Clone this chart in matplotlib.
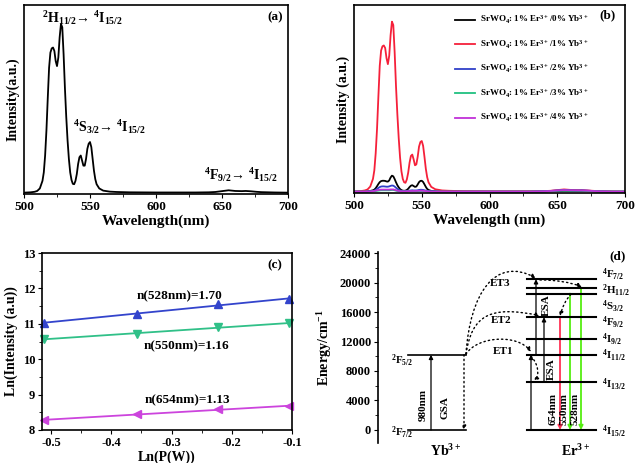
import numpy as np
import matplotlib
matplotlib.use('Agg')
import matplotlib.pyplot as plt
from matplotlib.patches import FancyArrowPatch
from matplotlib.path import Path
from matplotlib.ticker import MultipleLocator

plt.rcParams['font.family'] = ['Liberation Serif', 'DejaVu Serif']
plt.rcParams['font.weight'] = 'bold'
plt.rcParams['axes.labelweight'] = 'bold'
plt.rcParams['mathtext.fontset'] = 'custom'
plt.rcParams['mathtext.default'] = 'regular'
plt.rcParams['mathtext.rm'] = 'Liberation Serif:bold'
plt.rcParams['mathtext.bf'] = 'Liberation Serif:bold'
plt.rcParams['axes.unicode_minus'] = False
plt.rcParams['axes.linewidth'] = 1.2

# ---------------- data ----------------
# emission spectra (normalised)
wl = [500, 505, 508, 510, 512, 514, 515, 516, 517, 518, 519, 520, 521, 522, 523, 524,
      525, 526, 527, 528, 529, 530, 531, 532, 533, 534, 535, 536, 537, 538, 539, 540,
      541, 542, 543, 544, 545, 546, 547, 548, 549, 550, 551, 552, 553, 554, 555, 557,
      560, 565, 570, 580, 600, 630, 640, 645, 650, 655, 660, 665, 668, 672, 676, 680,
      690, 700]

spec_a = [0.000, 0.002, 0.005, 0.010, 0.025, 0.070, 0.120, 0.220, 0.370, 0.560, 0.740, 0.830,
          0.855, 0.860, 0.840, 0.780, 0.750, 0.800, 0.920, 1.000, 0.980, 0.820, 0.620, 0.450,
          0.310, 0.200, 0.120, 0.075, 0.052, 0.050, 0.070, 0.110, 0.170, 0.210, 0.220, 0.190,
          0.160, 0.160, 0.200, 0.260, 0.290, 0.300, 0.270, 0.200, 0.130, 0.080, 0.050, 0.025,
          0.012, 0.006, 0.004, 0.002, 0.001, 0.001, 0.002, 0.004, 0.009, 0.014, 0.010, 0.009,
          0.010, 0.008, 0.005, 0.003, 0.001, 0.000]

spec_0yb = [0.000, 0.000, 0.001, 0.002, 0.004, 0.008, 0.012, 0.020, 0.032, 0.045, 0.056, 0.062,
            0.064, 0.064, 0.063, 0.060, 0.059, 0.066, 0.083, 0.094, 0.090, 0.074, 0.055, 0.038,
            0.025, 0.015, 0.009, 0.006, 0.005, 0.006, 0.010, 0.017, 0.027, 0.035, 0.038, 0.033,
            0.028, 0.030, 0.042, 0.056, 0.063, 0.064, 0.057, 0.043, 0.028, 0.016, 0.010, 0.004,
            0.002, 0.001, 0.001, 0.000, 0.000, 0.000, 0.001, 0.002, 0.003, 0.005, 0.004, 0.003,
            0.004, 0.003, 0.002, 0.001, 0.000, 0.000]

spec_1yb = [0.000, 0.003, 0.007, 0.013, 0.030, 0.075, 0.125, 0.225, 0.370, 0.560, 0.740, 0.830,
            0.855, 0.860, 0.845, 0.785, 0.750, 0.800, 0.920, 1.000, 0.980, 0.820, 0.620, 0.455,
            0.315, 0.200, 0.120, 0.075, 0.055, 0.052, 0.072, 0.112, 0.170, 0.210, 0.218, 0.190,
            0.155, 0.160, 0.205, 0.265, 0.292, 0.298, 0.270, 0.205, 0.135, 0.085, 0.055, 0.028,
            0.014, 0.007, 0.005, 0.003, 0.002, 0.002, 0.003, 0.005, 0.009, 0.013, 0.010, 0.009,
            0.009, 0.007, 0.005, 0.003, 0.001, 0.000]

spec_2yb = [0.000, 0.000, 0.000, 0.001, 0.002, 0.004, 0.006, 0.010, 0.016, 0.022, 0.027, 0.030,
            0.031, 0.031, 0.030, 0.029, 0.029, 0.031, 0.034, 0.036, 0.035, 0.030, 0.023, 0.016,
            0.011, 0.007, 0.004, 0.003, 0.003, 0.003, 0.004, 0.005, 0.006, 0.007, 0.008, 0.007,
            0.007, 0.007, 0.008, 0.010, 0.011, 0.011, 0.010, 0.008, 0.006, 0.004, 0.003, 0.002,
            0.001, 0.000, 0.000, 0.000, 0.000, 0.000, 0.002, 0.004, 0.007, 0.010, 0.008, 0.007,
            0.008, 0.006, 0.004, 0.002, 0.000, 0.000]

spec_3yb = [0.000, 0.000, 0.000, 0.000, 0.001, 0.002, 0.003, 0.004, 0.005, 0.006, 0.007, 0.008,
            0.008, 0.008, 0.008, 0.008, 0.008, 0.008, 0.009, 0.010, 0.010, 0.008, 0.006, 0.004,
            0.003, 0.002, 0.001, 0.001, 0.001, 0.001, 0.001, 0.002, 0.002, 0.003, 0.003, 0.003,
            0.003, 0.003, 0.003, 0.004, 0.004, 0.004, 0.004, 0.003, 0.002, 0.001, 0.001, 0.000,
            0.000, 0.000, 0.000, 0.000, 0.000, 0.000, 0.001, 0.003, 0.005, 0.006, 0.005, 0.005,
            0.005, 0.004, 0.003, 0.001, 0.000, 0.000]

spec_4yb = [0.000, 0.000, 0.000, 0.001, 0.002, 0.003, 0.004, 0.006, 0.008, 0.010, 0.011, 0.012,
            0.012, 0.012, 0.012, 0.012, 0.012, 0.012, 0.013, 0.013, 0.013, 0.011, 0.008, 0.006,
            0.004, 0.003, 0.002, 0.002, 0.002, 0.002, 0.002, 0.003, 0.003, 0.004, 0.004, 0.004,
            0.004, 0.004, 0.005, 0.005, 0.006, 0.006, 0.005, 0.004, 0.003, 0.002, 0.001, 0.001,
            0.000, 0.000, 0.000, 0.000, 0.000, 0.000, 0.002, 0.004, 0.007, 0.009, 0.008, 0.007,
            0.007, 0.006, 0.004, 0.002, 0.000, 0.000]

series_b = [spec_0yb, spec_1yb, spec_2yb, spec_3yb, spec_4yb]
labels_b = ['SrWO$_4$: 1% Er$^{3+}$/0% Yb$^{3+}$',
            'SrWO$_4$: 1% Er$^{3+}$/1% Yb$^{3+}$',
            'SrWO$_4$: 1% Er$^{3+}$/2% Yb$^{3+}$',
            'SrWO$_4$: 1% Er$^{3+}$/3% Yb$^{3+}$',
            'SrWO$_4$: 1% Er$^{3+}$/4% Yb$^{3+}$']
colors_b = ['#000000', '#f5203a', '#3040c8', '#20c080', '#c030d8']

# power dependence
ln_p = [-0.511, -0.357, -0.223, -0.105]
ln_i_528 = [11.03, 11.28, 11.55, 11.70]
ln_i_550 = [10.57, 10.72, 10.90, 11.02]
ln_i_654 = [8.28, 8.44, 8.59, 8.67]

# energy levels (cm^-1)
yb_levels = {'2F7/2': 0, '2F5/2': 10200}
er_levels = {'4I15/2': 0, '4I13/2': 6550, '4I11/2': 10200, '4I9/2': 12400,
             '4F9/2': 15300, '4S3/2': 18500, '2H11/2': 19250, '4F7/2': 20450}

# ---------------- figure ----------------
W, H = 638, 463
fig = plt.figure(figsize=(W / 100, H / 100), dpi=100)


def rect(l, t, r, b):
    return [l / W, 1 - b / H, (r - l) / W, (b - t) / H]


# ---- (a) ----
ax = fig.add_axes(rect(24, 5, 288, 194))
ax.plot(wl, spec_a, color='black', lw=1.3)
ax.set_xlim(500, 700)
ax.set_ylim(-0.008, 1.112)
ax.set_yticks([])
ax.xaxis.set_major_locator(MultipleLocator(50))
ax.xaxis.set_minor_locator(MultipleLocator(25))
ax.tick_params(axis='x', which='major', direction='out', length=3, labelsize=9.5, pad=2)
ax.tick_params(axis='x', which='minor', direction='out', length=2)
ax.set_xlabel('Wavelength(nm)', fontsize=11, labelpad=1)
ax.set_ylabel('Intensity(a.u.)', fontsize=10, labelpad=3)
ax.text(0.07, 0.93, '$^2$H$_{11/2}$→ $^4$I$_{15/2}$', transform=ax.transAxes,
        fontsize=10, va='center', ha='left')
ax.text(0.185, 0.355, '$^4$S$_{3/2}$→ $^4$I$_{15/2}$', transform=ax.transAxes,
        fontsize=10, va='center', ha='left')
ax.text(0.68, 0.10, '$^4$F$_{9/2}$→ $^4$I$_{15/2}$', transform=ax.transAxes,
        fontsize=10, va='center', ha='left')
ax.text(0.98, 0.935, '(a)', transform=ax.transAxes, fontsize=9.5, va='center', ha='right')

# ---- (b) ----
ax = fig.add_axes(rect(354, 5, 625, 193))
for s, lab, c in zip(series_b, labels_b, colors_b):
    ax.plot(wl, s, color=c, lw=1.3, label=lab)
ax.set_xlim(500, 700)
ax.set_ylim(-0.008, 1.098)
ax.set_yticks([])
ax.xaxis.set_major_locator(MultipleLocator(50))
ax.xaxis.set_minor_locator(MultipleLocator(25))
ax.tick_params(axis='x', which='major', direction='out', length=3, labelsize=9.5, pad=2)
ax.tick_params(axis='x', which='minor', direction='out', length=2)
ax.set_xlabel('Wavelength (nm)', fontsize=11, labelpad=1)
ax.set_ylabel('Intensity (a.u.)', fontsize=10, labelpad=3)
ax.legend(loc='upper left', bbox_to_anchor=(0.355, 0.975), frameon=False, fontsize=6.5,
          handlelength=2.3, handletextpad=0.5, labelspacing=1.35, borderpad=0)
ax.text(0.965, 0.945, '(b)', transform=ax.transAxes, fontsize=9.5, va='center', ha='right')

# ---- (c) ----
ax = fig.add_axes(rect(42, 253, 292, 430))
for y, c, m in [(ln_i_528, '#3344cc', '^'), (ln_i_550, '#30c088', 'v'), (ln_i_654, '#cc44dd', '<')]:
    k, b = np.polyfit(ln_p, y, 1)
    xs = np.array([ln_p[0], ln_p[-1]])
    ax.plot(xs, k * xs + b, color=c, lw=1.3)
    ax.plot(ln_p, y, ls='none', marker=m, ms=5.5, color=c, clip_on=False)
ax.set_xlim(-0.515, -0.1)
ax.set_ylim(8, 13)
ax.xaxis.set_major_locator(MultipleLocator(0.1))
ax.xaxis.set_minor_locator(MultipleLocator(0.05))
ax.yaxis.set_major_locator(MultipleLocator(1))
ax.yaxis.set_minor_locator(MultipleLocator(0.5))
ax.tick_params(which='major', direction='out', length=3, labelsize=9, pad=2)
ax.tick_params(which='minor', direction='out', length=2)
ax.set_xlabel('Ln(P(W))', fontsize=10, labelpad=1)
ax.set_ylabel('Ln(Intensity (a.u))', fontsize=10, labelpad=3)
ax.text(-0.287, 11.79, 'n(528nm)=1.70', fontsize=9.5, ha='center', va='center')
ax.text(-0.276, 10.37, 'n(550nm)=1.16', fontsize=9.5, ha='center', va='center')
ax.text(-0.273, 8.85, 'n(654nm)=1.13', fontsize=9.5, ha='center', va='center')
ax.text(-0.128, 12.66, '(c)', fontsize=9.5, ha='center', va='center')

# ---- (d) energy level diagram ----
ax = fig.add_axes(rect(378, 252, 638, 443))
ax.set_xlim(378, 638)
ax.set_ylim(-1763, 24136)
for sp in ['top', 'right', 'bottom']:
    ax.spines[sp].set_visible(False)
ax.set_xticks([])
ax.yaxis.set_major_locator(MultipleLocator(4000))
ax.yaxis.set_minor_locator(MultipleLocator(2000))
ax.tick_params(axis='y', which='major', direction='out', length=3, labelsize=9, pad=2)
ax.tick_params(axis='y', which='minor', direction='out', length=2)
ax.set_ylabel('Energy/cm$^{-1}$', fontsize=10, labelpad=4)

yb_x = (408, 466)
er_x = (527, 596)
for e in yb_levels.values():
    ax.plot(yb_x, [e, e], color='black', lw=1.2)
for e in er_levels.values():
    ax.plot(er_x, [e, e], color='black', lw=1.5)

lvl_fs = 7.8
ax.text(391, 9300, '$^2$F$_{5/2}$', fontsize=lvl_fs, va='center')
ax.text(391, -350, '$^2$F$_{7/2}$', fontsize=lvl_fs, va='center')
er_labels = [('$^4$F$_{7/2}$', 21000), ('$^2$H$_{11/2}$', 18800), ('$^4$S$_{3/2}$', 16750),
             ('$^4$F$_{9/2}$', 14550), ('$^4$I$_{9/2}$', 12200), ('$^4$I$_{11/2}$', 10000),
             ('$^4$I$_{13/2}$', 6150), ('$^4$I$_{15/2}$', -300)]
for t, e in er_labels:
    ax.text(602, e, t, fontsize=lvl_fs, va='center', ha='left', clip_on=False)
ax.text(446, -2900, 'Yb$^{3+}$', fontsize=10, ha='center', va='center', clip_on=False)
ax.text(576, -2900, 'Er$^{3+}$', fontsize=10, ha='center', va='center', clip_on=False)
ax.text(618, 23500, '(d)', fontsize=9.5, ha='center', va='center')


def straight(x, e0, e1, color='black', lw=0.9):
    ax.add_patch(FancyArrowPatch((x, e0), (x, e1), arrowstyle='-|>', mutation_scale=6,
                                 color=color, lw=lw, shrinkA=0, shrinkB=0))


def dotted(pts):
    path = Path(pts, [Path.MOVETO, Path.CURVE4, Path.CURVE4, Path.CURVE4])
    ax.add_patch(FancyArrowPatch(path=path, arrowstyle='-|>', mutation_scale=6,
                                 color='black', lw=1.0, linestyle=(0, (1, 2.2))))


yb_lo, yb_hi = yb_levels['2F7/2'], yb_levels['2F5/2']
straight(431, yb_lo, yb_hi)
ax.add_patch(FancyArrowPatch((464, yb_hi), (464, yb_lo), arrowstyle='-|>', mutation_scale=6,
                             color='black', lw=1.0, linestyle=(0, (1, 2.2)), shrinkA=0, shrinkB=0))
ax.text(423, 3400, '980nm', rotation=90, fontsize=8, ha='center', va='center')
ax.text(445, 3100, 'GSA', rotation=90, fontsize=8, ha='center', va='center')

straight(531, er_levels['4I15/2'], er_levels['4I11/2'])
straight(536, er_levels['4I11/2'], er_levels['4F7/2'])
straight(544, er_levels['4I13/2'], er_levels['4F9/2'])
ax.text(546, 16900, 'ESA', rotation=90, fontsize=8, ha='center', va='center')
ax.text(551, 8200, 'ESA', rotation=90, fontsize=8, ha='center', va='center')

straight(560, er_levels['4F9/2'], er_levels['4I15/2'], color='#ff3355', lw=1.3)
straight(570, er_levels['4S3/2'], er_levels['4I15/2'], color='#55ee11', lw=1.3)
straight(581, er_levels['2H11/2'], er_levels['4I15/2'], color='#55ee11', lw=1.3)
ax.text(553, 2900, '654nm', rotation=90, fontsize=8, ha='center', va='center')
ax.text(564.5, 2900, '550nm', rotation=90, fontsize=8, ha='center', va='center')
ax.text(575.5, 2900, '528nm', rotation=90, fontsize=8, ha='center', va='center')

# energy transfer and relaxation paths
dotted([(466, 10300), (478, 12800), (518, 13000), (531, 10600)])
dotted([(466, 10300), (472, 15600), (490, 16900), (540, 15500)])
dotted([(466, 10300), (470, 18500), (495, 23600), (536, 20600)])
dotted([(531, 10000), (538, 9000), (540, 7500), (534, 6650)])
dotted([(540, 20350), (555, 20350), (570, 20050), (582, 19400)])
dotted([(571, 18400), (566, 17800), (562, 16500), (560, 15450)])
ax.text(503, 10700, 'ET1', fontsize=8, ha='center', va='center')
ax.text(501, 14800, 'ET2', fontsize=8, ha='center', va='center')
ax.text(500, 19900, 'ET3', fontsize=8, ha='center', va='center')

fig.savefig('out.png', dpi=100)
